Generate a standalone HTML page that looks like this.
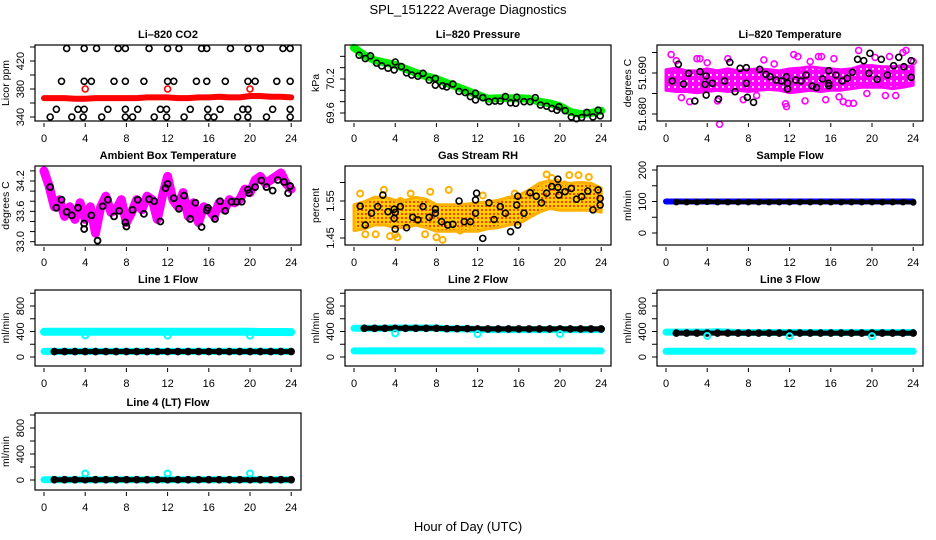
<!DOCTYPE html>
<html><head><meta charset="utf-8"><style>
html,body{margin:0;padding:0;background:#fff;}
svg{display:block;font-family:"Liberation Sans",Arial,sans-serif;}
</style></head><body>
<svg id="chart" width="936" height="540" viewBox="0 0 936 540" xmlns="http://www.w3.org/2000/svg">
<defs>
<pattern id="magPat" width="6" height="6" patternUnits="userSpaceOnUse"><rect width="6" height="6" fill="#ff00ff"/><circle cx="3" cy="3" r="1" fill="#fff"/></pattern>
<pattern id="rhPat" width="4" height="4" patternUnits="userSpaceOnUse"><rect width="4" height="4" fill="#ffd000"/><circle cx="2" cy="2" r="1.1" fill="#ff3000"/></pattern>
</defs>
<text x="468" y="14" font-size="13" text-anchor="middle">SPL_151222  Average Diagnostics</text>
<text x="468" y="531" font-size="13" text-anchor="middle">Hour of Day (UTC)</text>
<g id="panels"></g>
</svg>
<script>
// ---- data ----
const hourTicks = [0,4,8,12,16,20,24];
const hourly = [0,1,2,3,4,5,6,7,8,9,10,11,12,13,14,15,16,17,18,19,20,21,22,23,24];
const halfHourly = [0,0.5,1,1.5,2,2.5,3,3.5,4,4.5,5,5.5,6,6.5,7,7.5,8,8.5,9,9.5,10,10.5,11,11.5,12,12.5,13,13.5,14,14.5,15,15.5,16,16.5,17,17.5,18,18.5,19,19.5,20,20.5,21,21.5,22,22.5,23,23.5,24];

// CO2
const co2RedV = [367,367,367,366,366,367,367,367,367,367,368,368,368,367,367,368,368,369,368,368,370,370,369,369,368];
const co2RedOutT = [4,12,20];
const co2RedOutV = [380,380,380];
const co2BlackT = [2.2,3.9,5.1,7.2,7.9,10.2,12.0,13.1,15.3,15.8,18.1,19.8,21.0,23.2,23.9,
 1.7,3.9,4.6,6.8,7.9,9.7,12.0,12.6,14.8,15.8,17.6,19.8,20.5,22.6,23.9,
 1.2,3.3,3.9,6.2,7.9,9.1,11.3,11.9,14.2,15.9,17.1,19.3,19.8,22.2,23.9,
 0.6,2.7,3.8,5.6,7.9,8.6,10.7,11.9,13.6,15.9,16.5,18.8,19.8,21.6,23.9];
const co2BlackV = [438,438,438,438,438,438,438,438,438,438,438,438,438,438,438,
 391,391,391,391,391,391,391,391,391,391,391,391,391,391,391,
 351,351,351,351,351,351,351,351,351,351,351,351,351,351,351,
 340,340,340,340,340,340,340,340,340,340,340,340,340,340,340];

// Pressure
const presGreenV = [70.75,70.62,70.53,70.49,70.45,70.38,70.31,70.25,70.20,70.13,70.06,69.99,69.92,69.85,69.86,69.86,69.86,69.85,69.80,69.77,69.72,69.62,69.58,69.60,69.64];
const presBlackT = [0.5,1.1,1.6,2.2,2.7,3.3,3.9,4.0,4.6,5.1,5.6,6.2,6.7,7.3,7.9,7.9,8.6,9.0,9.6,10.2,10.8,11.3,11.8,11.8,12.5,13.1,13.7,14.2,14.7,15.2,15.7,15.8,16.5,17.1,17.6,18.1,18.7,19.2,19.7,19.9,20.5,21.1,21.6,22.1,22.6,23.2,23.7,23.9];
const presBlackV = [70.62,70.56,70.61,70.48,70.43,70.39,70.36,70.50,70.42,70.31,70.27,70.25,70.30,70.18,70.21,70.09,70.08,70.06,70.11,69.98,69.96,69.89,69.83,69.95,69.87,69.80,69.81,69.81,69.89,69.78,69.77,69.88,69.80,69.80,69.87,69.74,69.72,69.68,69.65,69.71,69.64,69.53,69.50,69.52,69.61,69.53,69.65,69.55];

// Li-820 temperature
const tempBandLow = [51.6858,51.6855,51.6855,51.6852,51.6855,51.6858,51.6855,51.6858,51.6855,51.6858,51.6860,51.6858,51.6852,51.6855,51.6858,51.6855,51.6858,51.6858,51.6862,51.6865,51.6865,51.6865,51.6862,51.6865,51.6870];
const tempBandHigh = [51.6908,51.6912,51.6905,51.6905,51.6910,51.6905,51.6910,51.6905,51.6908,51.6910,51.6908,51.6905,51.6910,51.6912,51.6915,51.6912,51.6910,51.6908,51.6910,51.6918,51.6918,51.6915,51.6915,51.6918,51.6915];
const tempMagT = [0.5,1.0,3.0,3.3,5.2,5.0,4.0,6.0,11.6,11.7,12.4,12.8,13.5,14.8,15.1,15.5,16.3,17.2,17.7,18.2,18.7,19.5,20.3,21.3,21.7,22.3,23.0,23.3,24.0,2.3,7.5,9.5,10.5,1.5,8.8,14.0,16.8];
const tempMagV = [51.6945,51.6930,51.6935,51.6935,51.6775,51.6832,51.6925,51.6935,51.6825,51.6818,51.6945,51.6940,51.6832,51.6940,51.6940,51.6835,51.6935,51.6830,51.6826,51.6826,51.6955,51.6850,51.6938,51.6845,51.6940,51.6845,51.6950,51.6955,51.6928,51.6830,51.6835,51.6932,51.6922,51.6840,51.6845,51.6928,51.6842];
const tempBlackT = [0.6,1.2,1.7,2.2,2.8,3.3,3.8,3.9,3.9,4.5,5.1,5.7,6.2,6.7,7.2,7.8,7.8,7.9,8.5,9.1,9.7,10.1,10.7,11.2,11.7,11.8,11.8,12.6,13.1,13.6,14.2,14.6,15.2,15.8,15.8,15.8,16.5,17.1,17.6,18.1,18.6,19.2,19.7,19.8,20.5,20.9,21.5,22.1,22.6,23.1,23.8,23.8];
const tempBlackV = [51.68805,51.69212,51.68732,51.68993,51.68317,51.69032,51.68725,51.68927,51.68463,51.68749,51.68366,51.68805,51.69261,51.68544,51.69115,51.69129,51.68749,51.68407,51.68285,51.6909,51.68968,51.6891,51.68829,51.68805,51.6891,51.68749,51.6861,51.68829,51.68805,51.68951,51.68683,51.68641,51.68854,51.68749,51.6869,51.69056,51.68951,51.68805,51.6887,51.69017,51.69334,51.693,51.68993,51.6948,51.68846,51.69334,51.68951,51.69178,51.69383,51.69154,51.693,51.68895];

// Ambient box temperature
const ambMagV = [34.40,34.10,33.69,33.83,33.50,33.69,33.44,33.77,33.44,33.69,33.17,33.69,33.90,33.58,33.63,33.83,33.38,33.58,33.83,33.63,33.90,33.83,33.44,33.90,34.29,33.83,33.69,33.97,33.50,33.77,33.38,33.69,33.63,33.50,33.77,33.63,33.83,33.77,33.83,34.04,33.97,34.22,34.29,34.15,34.22,34.29,34.36,34.15,34.04];
const ambBlackT = [0.6,1.2,1.7,2.2,2.7,3.3,3.9,3.9,4.6,5.2,5.7,6.2,6.8,7.3,7.9,8.0,8.6,9.1,9.7,10.2,10.7,11.3,11.8,12.0,12.6,13.1,13.6,14.2,14.7,15.3,15.8,15.9,16.6,17.1,17.6,18.2,18.7,19.2,19.8,19.9,20.5,21.1,21.6,22.2,22.7,23.3,23.7,23.9];
const ambBlackV = [34.08,33.67,33.83,33.59,33.52,33.67,33.36,33.25,33.52,33.02,33.70,33.83,33.50,33.61,33.38,33.30,33.63,33.83,33.55,33.84,33.80,33.40,34.06,34.14,33.86,33.65,33.91,33.45,33.77,33.29,33.62,33.67,33.45,33.80,33.61,33.79,33.79,33.79,34.03,33.96,34.08,34.21,34.08,34.01,34.22,34.18,33.96,34.10];

// Gas stream RH
const rhBandLow = [1.470,1.475,1.485,1.485,1.478,1.478,1.485,1.478,1.468,1.468,1.468,1.468,1.468,1.475,1.478,1.485,1.488,1.505,1.520,1.530,1.525,1.525,1.525,1.525,1.520];
const rhBandHigh = [1.540,1.548,1.560,1.560,1.552,1.552,1.560,1.555,1.540,1.540,1.540,1.542,1.545,1.548,1.552,1.560,1.565,1.580,1.598,1.605,1.598,1.598,1.600,1.598,1.585];
const rhYellowT = [0.6,1.1,2.1,2.9,4.0,4.2,4.5,6.9,7.4,8.0,8.6,9.2,10.3,11.5,12.5,15.6,18.0,18.7,19.2,20.4,20.9,21.8,22.8,19.7,3.5,5.5];
const rhYellowV = [1.570,1.460,1.460,1.580,1.460,1.452,1.550,1.460,1.575,1.452,1.445,1.580,1.470,1.480,1.565,1.570,1.588,1.622,1.612,1.595,1.620,1.620,1.615,1.600,1.455,1.570];
const rhBlackT = [0.6,1.1,1.7,2.3,2.8,3.3,3.9,3.9,4.0,4.0,4.5,5.1,5.7,6.2,6.7,7.3,7.9,7.9,8.5,9.1,9.6,10.2,10.7,11.3,11.8,11.9,11.8,12.5,13.1,13.6,14.2,14.7,15.2,15.8,15.9,15.9,16.5,17.1,17.7,18.2,18.7,19.2,19.8,19.8,19.9,20.5,21.1,21.6,22.1,22.7,23.2,23.7,23.9,23.9];
const rhBlackV = [1.536,1.485,1.517,1.535,1.566,1.521,1.528,1.503,1.474,1.519,1.535,1.478,1.506,1.499,1.535,1.506,1.528,1.517,1.494,1.485,1.487,1.550,1.494,1.494,1.517,1.571,1.553,1.449,1.545,1.500,1.535,1.517,1.467,1.539,1.485,1.563,1.517,1.572,1.563,1.545,1.571,1.589,1.609,1.587,1.566,1.575,1.584,1.555,1.562,1.577,1.526,1.580,1.557,1.539];

// Sample flow
const sampleBlueV = [100,100,100,100,100,100,100,100,100,100,100,100,100,100,100,100,100,100,100,100,100,100,100,100,100];
const sampleBlackV = [null,98,98,98,99,98,98,98,98,98,98,98,98,98,98,98,98,98,98,98,98,98,98,98,97];

// Line flows
const line1CyanV = [395,395,395,395,395,395,395,395,395,395,395,395,395,395,395,395,395,395,395,395,395,392,392,392,390];
const line1BlackV = [null,85,85,85,85,85,85,85,85,85,85,85,85,85,85,85,85,85,85,85,85,85,85,85,85];
const line1CyanLowV = [88,88,88,88,88,88,88,88,88,88,88,88,88,88,88,88,88,88,88,88,88,88,88,88,88];
const line1OutT = [4,12,20];
const line1OutV = [340,335,335];

const line2BlackV = [null,450,450,450,450,450,450,450,450,445,445,445,440,440,440,440,440,440,440,440,440,440,440,440,440];
const line2CyanHighV = [450,450,450,450,455,455,455,455,455,440,440,440,430,430,430,430,430,430,430,430,430,430,430,430,430];
const line2CyanV = [95,95,95,95,95,95,95,95,95,95,95,95,95,95,95,95,95,95,95,95,95,95,95,95,95];
const line2OutT = [4,12,20];
const line2OutV = [370,360,360];

const line3BlackV = [null,375,375,375,375,375,375,375,375,375,375,375,375,375,375,375,375,375,375,375,375,375,375,375,375];
const line3CyanHighV = [390,390,390,390,390,395,390,385,385,385,385,385,385,385,385,385,385,385,385,385,385,385,385,385,385];
const line3CyanV = [90,90,90,90,90,90,90,90,90,90,90,90,90,90,90,90,90,90,90,90,90,90,90,90,90];
const line3OutT = [4,12,20];
const line3OutV = [330,325,325];

const line4BlackV = [null,5,5,5,5,5,5,5,5,5,5,5,5,5,5,5,5,5,5,5,5,5,5,5,5];
const line4CyanV = [5,5,5,5,5,5,5,5,5,5,5,5,5,5,5,5,5,5,5,5,5,5,5,5,5];
const line4OutT = [4,12,20];
const line4OutV = [100,100,100];

const co2Ticks = [340,360,380,400,420,440];
const co2Labels = ["340","380","420"];
const presTicks = [69.6,69.8,70.0,70.2,70.4,70.6];
const presLabels = ["69.6","70.2"];
const tempTicks = [51.680,51.685,51.690,51.695];
const tempLabels = ["51.680","51.690"];
const ambTicks = [33.0,33.2,33.4,33.6,33.8,34.0,34.2,34.4];
const ambLabels = ["33.0","33.6","34.2"];
const rhTicks = [1.45,1.50,1.55,1.60];
const rhLabels = ["1.45","1.55"];
const sampleTicks = [0,50,100,150,200];
const sampleLabels = ["0","100","200"];
const flowTicks = [0,200,400,600,800,1000];
const flowLabels = ["0","400","800"];

// ---- drawing ----
const NS = "http://www.w3.org/2000/svg";
const root = document.getElementById("panels");
function mk(tag, name, parent, attrs) {
  const el = document.createElementNS(NS, tag);
  
  
  for (const k in attrs) el.setAttribute(k, attrs[k]);
  parent.appendChild(el);
  return el;
}
const colX = [35, 345, 657];
const rowTop = [45, 166, 290, 413];
const rowBot = [121, 245, 366, 490];

function panel(slug, col, row, title, ylab, v0, p0, v1, p1, ticks, labels) {
  const g = mk("g", slug + "-panel", root, {});
  const bx = colX[col], bt = rowTop[row], bb = rowBot[row], bw = 266;
  const xs = h => bx + 9 + h * 10.3;
  const ys = v => p0 + (v - v0) * (p1 - p0) / (v1 - v0);
  const plot = mk("g", slug + "-plot-area", g, {});
  mk("rect", slug + "-frame", g, {x: bx, y: bt, width: bw, height: bb - bt, fill: "none", stroke: "#000", "stroke-width": 1.2});
  const t = mk("text", slug + "-title", g, {x: bx + bw / 2, y: bt - 7, "font-size": 11, "font-weight": "bold", "text-anchor": "middle"});
  t.textContent = title;
  const yl = mk("text", slug + "-y-axis-title", g, {x: bx - 26, y: (bt + bb) / 2, "font-size": 10.5, "text-anchor": "middle", transform: "rotate(-90 " + (bx - 26) + " " + ((bt + bb) / 2) + ")"});
  yl.textContent = ylab;
  for (const tv of ticks) {
    const y = ys(tv);
    mk("line", slug + "-y-tick", g, {x1: bx - 5, x2: bx, y1: y, y2: y, stroke: "#000", "stroke-width": 1});
  }
  for (const lb of labels) {
    const y = ys(parseFloat(lb));
    const tl = mk("text", slug + "-y-tick-label", g, {x: bx - 11, y: y, "font-size": 11, "text-anchor": "middle", transform: "rotate(-90 " + (bx - 11) + " " + y + ")"});
    tl.textContent = lb;
  }
  for (const h of hourTicks) {
    const x = xs(h);
    mk("line", slug + "-x-tick", g, {x1: x, x2: x, y1: bb + 2, y2: bb + 6, stroke: "#000", "stroke-width": 1});
    const tl = mk("text", slug + "-x-tick-label", g, {x: x, y: bb + 21, "font-size": 11, "text-anchor": "middle"});
    tl.textContent = String(h);
  }
  return {plot, xs, ys};
}
function pts(P, name, T, V, color, r, sw) {
  for (let i = 0; i < V.length; i++) {
    if (V[i] === null) continue;
    mk("circle", name, P.plot, {cx: P.xs(T[i]), cy: P.ys(V[i]), r: r, fill: "none", stroke: color, "stroke-width": sw});
  }
}
function band(P, name, T, V, color, width) {
  let d = "";
  for (let i = 0; i < V.length; i++) {
    if (V[i] === null) continue;
    d += (d ? "L" : "M") + P.xs(T[i]).toFixed(1) + "," + P.ys(V[i]).toFixed(1);
  }
  mk("path", name, P.plot, {d: d, fill: "none", stroke: color, "stroke-width": width, "stroke-linejoin": "round", "stroke-linecap": "round"});
}
function area(P, name, T, lo, hi, fill) {
  let d = "";
  for (let i = 0; i < T.length; i++) d += (i ? "L" : "M") + P.xs(T[i]).toFixed(1) + "," + P.ys(hi[i]).toFixed(1);
  for (let i = T.length - 1; i >= 0; i--) d += "L" + P.xs(T[i]).toFixed(1) + "," + P.ys(lo[i]).toFixed(1);
  mk("path", name, P.plot, {d: d + "Z", fill: fill, stroke: fill === "url(#rhPat)" ? "#ffb000" : "#ff00ff", "stroke-width": 3, "stroke-linejoin": "round"});
}

// CO2
let P = panel("co2", 0, 0, "Li–820 CO2", "Licor ppm", 340, 117, 420, 61, co2Ticks, co2Labels);
band(P, "co2-red-band", hourly, co2RedV, "#ff0000", 6);
pts(P, "co2-red-outlier", co2RedOutT, co2RedOutV, "#ff0000", 3, 1.6);
pts(P, "co2-black-point", co2BlackT, co2BlackV, "#000", 3, 1.6);

// Pressure
P = panel("pressure", 1, 0, "Li–820 Pressure", "kPa", 69.6, 113, 70.2, 79, presTicks, presLabels);
band(P, "pressure-green-band", hourly, presGreenV, "#00ee00", 8);
pts(P, "pressure-black-point", presBlackT, presBlackV, "#000", 3, 1.6);

// Li-820 temperature
P = panel("li820-temp", 2, 0, "Li–820 Temperature", "degrees C", 51.680, 114, 51.690, 73, tempTicks, tempLabels);
area(P, "li820-temp-magenta-cloud", hourly, tempBandLow, tempBandHigh, "url(#magPat)");
pts(P, "li820-temp-magenta-point", tempMagT, tempMagV, "#ff00ff", 3, 1.6);
pts(P, "li820-temp-black-point", tempBlackT, tempBlackV, "#000", 3, 1.6);

// Ambient
P = panel("ambient-temp", 0, 1, "Ambient Box Temperature", "degrees C", 33.0, 241.7, 34.2, 181, ambTicks, ambLabels);
band(P, "ambient-magenta-band", halfHourly, ambMagV, "#ff00ff", 9);
pts(P, "ambient-black-point", ambBlackT, ambBlackV, "#000", 3, 1.8);

// RH
P = panel("gas-rh", 1, 1, "Gas Stream RH", "percent", 1.45, 238, 1.55, 201, rhTicks, rhLabels);
area(P, "gas-rh-cloud", hourly, rhBandLow, rhBandHigh, "url(#rhPat)");
pts(P, "gas-rh-yellow-point", rhYellowT, rhYellowV, "#ffb000", 3, 2);
pts(P, "gas-rh-black-point", rhBlackT, rhBlackV, "#000", 3, 1.6);

// Sample flow
P = panel("sample-flow", 2, 1, "Sample Flow", "ml/min", 0, 233, 200, 170, sampleTicks, sampleLabels);
band(P, "sample-flow-blue-band", hourly, sampleBlueV, "#0000ff", 6);
band(P, "sample-flow-black-band", hourly, sampleBlackV, "#000", 4);
pts(P, "sample-flow-black-point", hourly, sampleBlackV, "#000", 2.6, 1.4);

// Line 1
P = panel("line1-flow", 0, 2, "Line 1 Flow", "ml/min", 0, 357, 800, 306, flowTicks, flowLabels);
band(P, "line1-cyan-band", hourly, line1CyanV, "#00ffff", 8);
band(P, "line1-cyan-low-band", hourly, line1CyanLowV, "#00ffff", 7);
band(P, "line1-black-band", hourly, line1BlackV, "#000", 5);
pts(P, "line1-black-point", hourly, line1BlackV, "#000", 3, 1.6);
pts(P, "line1-cyan-outlier", line1OutT, line1OutV, "#00ffff", 3, 2);

// Line 2
P = panel("line2-flow", 1, 2, "Line 2 Flow", "ml/min", 0, 357, 800, 306, flowTicks, flowLabels);
band(P, "line2-cyan-low-band", hourly, line2CyanV, "#00ffff", 7);
band(P, "line2-cyan-high-band", hourly, line2CyanHighV, "#00ffff", 7);
band(P, "line2-black-band", hourly, line2BlackV, "#000", 5);
pts(P, "line2-black-point", hourly, line2BlackV, "#000", 3, 1.6);
pts(P, "line2-cyan-outlier", line2OutT, line2OutV, "#00ffff", 3, 2);

// Line 3
P = panel("line3-flow", 2, 2, "Line 3 Flow", "ml/min", 0, 357, 800, 306, flowTicks, flowLabels);
band(P, "line3-cyan-low-band", hourly, line3CyanV, "#00ffff", 7);
band(P, "line3-cyan-high-band", hourly, line3CyanHighV, "#00ffff", 7);
band(P, "line3-black-band", hourly, line3BlackV, "#000", 5);
pts(P, "line3-black-point", hourly, line3BlackV, "#000", 3, 1.6);
pts(P, "line3-cyan-outlier", line3OutT, line3OutV, "#00ffff", 3, 2);

// Line 4
P = panel("line4-flow", 0, 3, "Line 4 (LT) Flow", "ml/min", 0, 480, 800, 428, flowTicks, flowLabels);
band(P, "line4-cyan-band", hourly, line4CyanV, "#00ffff", 7);
band(P, "line4-black-band", hourly, line4BlackV, "#000", 5);
pts(P, "line4-black-point", hourly, line4BlackV, "#000", 3, 1.6);
pts(P, "line4-cyan-outlier", line4OutT, line4OutV, "#00ffff", 3, 2);
</script>
</body></html>
